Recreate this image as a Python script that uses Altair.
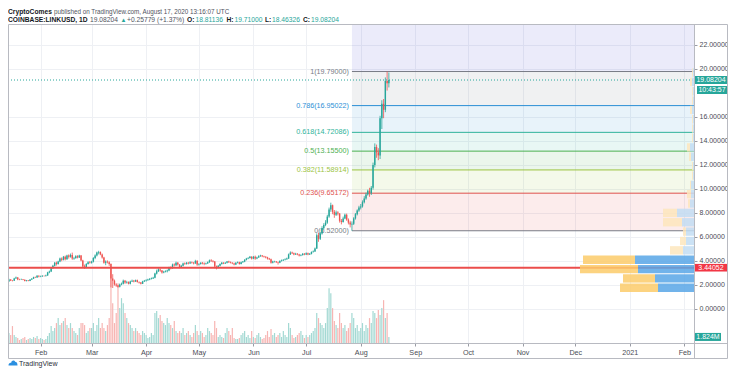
import altair as alt
import pandas as pd

# ---------------- data ----------------
FIRST_OPEN = 2.30  # open of the first visible candle (2020-01-14)

close_jan = [2.45, 2.37, 2.36, 2.55, 2.63, 2.46, 2.45, 2.47, 2.44, 2.33, 2.38, 2.34, 2.45, 2.53, 2.65, 2.63, 2.77, 2.70]
high_jan = [2.52, 2.50, 2.42, 2.60, 2.70, 2.66, 2.52, 2.53, 2.50, 2.46, 2.42, 2.41, 2.48, 2.58, 2.69, 2.70, 2.82, 2.80]
low_jan = [2.28, 2.33, 2.30, 2.34, 2.52, 2.40, 2.40, 2.42, 2.40, 2.30, 2.30, 2.31, 2.32, 2.42, 2.50, 2.58, 2.60, 2.64]
vol_jan = [3.0, 2.4, 5.1, 2.4, 1.8, 1.5, 0.9, 1.2, 1.5, 1.8, 0.9, 1.2, 1.5, 1.2, 1.8, 1.5, 2.1, 1.2]

close_feb = [2.72, 2.76, 2.74, 2.80, 3.05, 3.12, 3.40, 3.60, 3.85, 3.75, 3.95, 4.20, 4.10, 4.35, 4.15, 4.45, 4.35, 4.50, 4.20, 4.25, 4.40, 4.30, 4.45, 4.05, 3.55, 3.45, 3.75, 3.90, 3.85]
high_feb = [2.78, 2.82, 2.80, 2.86, 3.10, 3.20, 3.48, 3.68, 3.92, 3.95, 4.02, 4.28, 4.30, 4.42, 4.45, 4.52, 4.55, 4.62, 4.70, 4.35, 4.48, 4.48, 4.52, 4.50, 4.10, 3.70, 3.82, 3.98, 4.00]
low_feb = [2.65, 2.68, 2.70, 2.70, 2.76, 2.98, 3.08, 3.35, 3.55, 3.62, 3.70, 3.90, 3.98, 4.05, 4.05, 4.10, 4.20, 4.28, 4.10, 4.10, 4.18, 4.22, 4.25, 3.98, 3.45, 3.35, 3.40, 3.70, 3.78]
vol_feb = [1.5, 1.2, 0.9, 1.2, 2.1, 3.0, 5.1, 3.6, 4.5, 6.0, 7.5, 5.4, 6.0, 6.6, 7.5, 5.4, 4.5, 6.0, 4.5, 3.6, 3.0, 2.4, 4.5, 6.0, 6.0, 5.4, 3.0, 3.6, 4.5]

close_mar = [3.95, 4.25, 4.45, 4.70, 4.75, 4.55, 4.30, 3.85, 3.95, 3.90, 3.75, 2.55, 2.35, 2.05, 1.95, 1.85, 2.05, 2.10, 2.35, 2.20, 2.25, 2.10, 2.30, 2.35, 2.30, 2.40, 2.25, 2.20, 2.10, 2.30, 2.35]
high_mar = [4.02, 4.32, 4.55, 4.78, 4.85, 4.80, 4.62, 4.35, 4.05, 4.05, 3.98, 3.80, 2.90, 2.45, 2.15, 2.02, 2.12, 2.20, 2.45, 2.42, 2.35, 2.30, 2.36, 2.45, 2.42, 2.45, 2.45, 2.30, 2.25, 2.35, 2.42]
low_mar = [3.78, 3.88, 4.15, 4.38, 4.55, 4.48, 4.20, 3.78, 3.65, 3.80, 3.60, 1.80, 1.75, 1.95, 1.85, 1.78, 1.80, 1.98, 2.05, 2.10, 2.12, 2.05, 2.05, 2.25, 2.22, 2.25, 2.20, 2.12, 2.05, 2.08, 2.25]
vol_mar = [4.5, 6.0, 3.6, 5.4, 7.5, 4.5, 6.0, 4.5, 3.6, 5.4, 7.5, 19.5, 12.0, 6.0, 9.0, 18.0, 10.5, 13.5, 12.0, 9.0, 7.5, 6.0, 5.4, 4.5, 3.6, 4.5, 3.6, 3.0, 2.4, 3.6, 3.0]

close_apr = [2.40, 2.45, 2.50, 2.55, 2.60, 2.95, 3.15, 3.30, 3.20, 3.05, 3.10, 3.15, 3.20, 3.45, 3.40, 3.70, 3.65, 3.85, 3.70, 3.50, 3.60, 3.80, 3.75, 3.85, 3.80, 3.90, 3.85, 3.80, 4.00, 3.70]
high_apr = [2.48, 2.52, 2.58, 2.62, 2.68, 3.02, 3.28, 3.40, 3.38, 3.25, 3.18, 3.22, 3.28, 3.52, 3.55, 3.78, 3.80, 3.95, 3.92, 3.75, 3.68, 3.86, 3.88, 3.92, 3.92, 3.98, 3.96, 3.92, 4.10, 4.08]
low_apr = [2.28, 2.36, 2.40, 2.46, 2.50, 2.56, 2.88, 3.08, 3.10, 2.95, 2.98, 3.05, 3.05, 3.15, 3.30, 3.35, 3.55, 3.58, 3.62, 3.40, 3.45, 3.55, 3.68, 3.70, 3.72, 3.76, 3.78, 3.72, 3.76, 3.60]
vol_apr = [2.4, 1.5, 1.8, 3.0, 2.4, 9.0, 9.6, 7.5, 8.4, 6.6, 6.0, 5.4, 7.5, 6.0, 5.4, 4.5, 6.6, 3.6, 3.0, 3.6, 3.0, 4.5, 2.4, 3.0, 3.6, 2.4, 1.8, 3.0, 5.4, 3.6]

close_may = [3.75, 3.85, 3.80, 3.75, 3.80, 3.90, 4.05, 4.00, 3.95, 3.55, 3.45, 3.60, 3.75, 3.85, 3.80, 3.85, 3.95, 3.90, 3.85, 3.80, 3.70, 3.85, 3.90, 3.75, 3.90, 3.95, 4.10, 4.20, 4.25, 4.35, 4.20]
high_may = [3.82, 3.90, 3.92, 3.88, 3.86, 3.96, 4.12, 4.15, 4.08, 4.00, 3.62, 3.66, 3.80, 3.92, 3.90, 3.90, 4.00, 4.02, 3.96, 3.90, 3.86, 3.90, 3.96, 3.94, 3.95, 4.00, 4.15, 4.26, 4.32, 4.42, 4.40]
low_may = [3.62, 3.70, 3.72, 3.65, 3.70, 3.76, 3.85, 3.92, 3.88, 3.40, 3.30, 3.40, 3.55, 3.70, 3.74, 3.75, 3.80, 3.84, 3.80, 3.74, 3.64, 3.66, 3.80, 3.70, 3.72, 3.85, 3.90, 4.05, 4.15, 4.20, 4.12]
vol_may = [2.4, 3.6, 3.0, 1.8, 2.4, 4.5, 3.6, 3.0, 2.4, 6.6, 4.5, 1.8, 2.4, 1.8, 1.5, 3.0, 4.5, 3.6, 2.4, 4.5, 1.5, 1.2, 1.2, 1.5, 2.4, 3.0, 3.6, 1.8, 2.4, 1.5, 3.6]

close_jun = [4.35, 4.20, 4.30, 4.40, 4.45, 4.40, 4.35, 4.30, 4.20, 4.15, 3.85, 3.95, 3.95, 3.90, 3.85, 4.00, 4.05, 4.10, 4.15, 4.20, 4.55, 4.70, 4.65, 4.55, 4.60, 4.55, 4.45, 4.50, 4.60, 4.55]
high_jun = [4.42, 4.45, 4.36, 4.48, 4.52, 4.50, 4.44, 4.40, 4.35, 4.26, 4.20, 4.02, 4.02, 4.00, 3.95, 4.06, 4.12, 4.15, 4.22, 4.28, 4.62, 4.80, 4.78, 4.70, 4.68, 4.66, 4.60, 4.56, 4.66, 4.66]
low_jun = [4.15, 4.10, 4.15, 4.26, 4.35, 4.32, 4.28, 4.22, 4.12, 4.08, 3.78, 3.80, 3.88, 3.84, 3.70, 3.82, 3.95, 4.00, 4.05, 4.10, 4.18, 4.50, 4.58, 4.48, 4.50, 4.48, 4.38, 4.40, 4.45, 4.48]
vol_jun = [1.8, 1.5, 2.4, 3.0, 1.8, 1.2, 1.5, 2.4, 3.6, 1.8, 4.2, 2.4, 3.0, 1.8, 2.4, 3.0, 1.8, 3.6, 2.4, 1.8, 6.0, 4.5, 2.4, 1.5, 1.8, 2.4, 3.0, 3.6, 2.4, 1.5]

close_jul = [4.65, 4.55, 4.60, 4.75, 4.80, 5.05, 6.15, 5.85, 6.30, 6.75, 7.00, 7.20, 7.70, 8.30, 8.65, 8.10, 7.85, 8.05, 7.95, 7.35, 7.25, 7.55, 7.85, 7.45, 7.20, 7.05, 7.10, 7.55, 7.90, 8.20, 8.45]
high_jul = [4.72, 4.70, 4.66, 4.80, 4.88, 5.12, 6.30, 6.35, 6.42, 6.90, 7.15, 7.40, 7.85, 8.45, 8.86, 8.70, 8.25, 8.20, 8.15, 8.00, 7.50, 7.70, 7.95, 7.95, 7.55, 7.35, 7.30, 7.65, 8.00, 8.30, 8.60]
low_jul = [4.50, 4.48, 4.50, 4.55, 4.70, 4.76, 5.00, 5.60, 5.75, 6.20, 6.60, 6.90, 7.10, 7.60, 8.10, 7.90, 7.60, 7.75, 7.80, 7.20, 7.05, 7.20, 7.48, 7.35, 7.05, 6.80, 6.52, 7.00, 7.45, 7.80, 8.10]
vol_jul = [2.4, 1.8, 2.4, 3.0, 3.6, 4.5, 9.0, 7.5, 6.0, 5.4, 4.5, 6.0, 10.5, 16.5, 15.0, 10.5, 6.6, 5.4, 4.5, 9.0, 6.0, 4.5, 5.4, 3.6, 4.5, 6.0, 9.0, 7.5, 4.5, 5.4, 3.6]

close_aug = [8.55, 8.90, 9.20, 9.55, 9.85, 9.65, 10.10, 12.00, 13.50, 13.05, 12.80, 15.90, 17.10, 16.60, 19.00, 18.81136, 19.08204]
high_aug = [8.75, 9.05, 9.40, 9.70, 9.95, 10.10, 10.25, 12.20, 13.80, 13.70, 13.40, 16.10, 17.40, 17.50, 19.30, 19.79, 19.71]
low_aug = [8.30, 8.45, 8.80, 9.10, 9.45, 9.35, 9.50, 9.95, 11.80, 12.60, 12.40, 12.50, 15.00, 15.90, 16.40, 18.20, 18.46326]
vol_aug = [4.5, 6.0, 3.6, 5.4, 4.5, 7.5, 6.0, 9.6, 9.0, 7.5, 9.9, 8.4, 10.5, 12.9, 7.5, 9.0, 1.824]

# Fibonacci retracement drawn from the 6.52 low (Jul 27) to the 19.79 high
fib_start = "2020-07-27"
fib_coef = [0, 0.236, 0.382, 0.5, 0.618, 0.786, 1, 1.618]
fib_price = [6.52, 9.65172, 11.58914, 13.155, 14.72086, 16.95022, 19.79, 27.99086]

hline_price = 3.44052
countdown = "10:43:57"

# visible-range volume profile rows (bottom of row, up volume, down volume)
vp_step = 0.78
vp_low = [1.42, 2.20, 2.98, 3.76, 4.54, 5.32, 6.10, 6.88, 7.66, 8.44, 9.22, 10.00,
          10.78, 11.56, 12.34, 13.12, 13.90, 14.68, 15.46, 16.24, 17.02, 17.80, 18.58, 19.36]
vp_up = [54, 58.5, 84, 88.5, 16.5, 12, 12, 18, 25.5, 6, 4.5, 4.5,
         1.5, 1.5, 4.5, 6, 1.5, 1.5, 1.5, 3, 1.5, 1.5, 3, 1.5]
vp_down = [57, 48, 87, 78, 19.5, 9, 4.5, 28.5, 21, 3, 6, 1.5,
           1.5, 1.5, 3, 4.5, 1.5, 1.5, 1.5, 3, 1.5, 1.5, 3, 1.5]
vp_value_area = [True] * 4 + [False] * 20

price_ticks = [0, 2, 4, 6, 8, 10, 12, 14, 16, 20, 22]

header_author = "CryptoComes"
header_rest = "published on TradingView.com, August 17, 2020 13:16:07 UTC"
symbol = "COINBASE:LINKUSD, 1D"
change_text = "+0.25779 (+1.37%)"

# ---------------- tables ----------------
close = close_jan + close_feb + close_mar + close_apr + close_may + close_jun + close_jul + close_aug
high = high_jan + high_feb + high_mar + high_apr + high_may + high_jun + high_jul + high_aug
low = low_jan + low_feb + low_mar + low_apr + low_may + low_jun + low_jul + low_aug
volume = vol_jan + vol_feb + vol_mar + vol_apr + vol_may + vol_jun + vol_jul + vol_aug
dates = pd.date_range("2020-01-14", "2020-08-17", freq="D")
opens = [FIRST_OPEN] + close[:-1]

df = pd.DataFrame({
    "date": dates.strftime("%Y-%m-%d"),
    "open": opens, "high": high, "low": low, "close": close, "volume": volume,
})
df["dir"] = ["up" if c >= o else "down" for o, c in zip(opens, close)]
last = df.tail(1).copy()
last["plabel"] = [f"{v:.5f}" for v in last["close"]]
last["vlabel"] = [f"{v:.3f}M" for v in last["volume"]]

fib_colors = ["#787b86", "#e0514e", "#9bc43f", "#4caf50", "#2fb39a", "#2c8fd6", "#787b86", "#4a45d0"]
fib_keys = [str(c) for c in fib_coef]
fib_lines_df = pd.DataFrame({
    "start": fib_start, "price": fib_price[:7], "key": fib_keys[:7],
    "label": [f"{c:g}({p:.5f})" for c, p in zip(fib_coef[:7], fib_price[:7])],
})
fib_band_df = pd.DataFrame({
    "start": fib_start, "lo": fib_price[:-1], "hi": fib_price[1:], "key": fib_keys[1:],
})

prof_rows = []
for lo, up, dn, va in zip(vp_low, vp_up, vp_down, vp_value_area):
    prof_rows.append({"lo": lo, "hi": lo + vp_step, "x0": 0, "x1": up, "kind": "up_va" if va else "up"})
    prof_rows.append({"lo": lo, "hi": lo + vp_step, "x0": up, "x1": up + dn, "kind": "down_va" if va else "down"})
prof_df = pd.DataFrame(prof_rows)

level_df = pd.DataFrame({"price": [hline_price]})

# ---------------- layout / styles ----------------
W, H = 686, 319          # plot area: page x 8..694, y 24..343
R = 719.5                # right edge of the outer frame (plot coords)
B = 334.5                # bottom edge of the outer frame (plot coords)
FONT = "Liberation Sans"
GRID = "#eef0f4"
FRAME = "#b8bac1"
AXIS_TXT = "#4a4c55"
UP, DOWN = "#26a69a", "#ef5350"
TEAL = "#26a69a"


def ms(s):
    return int(pd.Timestamp(s, tz="UTC").value // 10**6)


x_scale = alt.Scale(type="utc", domain=[ms("2020-01-16 07:32"), ms("2021-02-03 15:03")])
y_scale = alt.Scale(domain=[-2.8333, 23.75], nice=False, zero=False)
month_ticks = [ms(f"{y}-{m:02d}-01") for y, m in
               [(2020, m) for m in range(2, 13)] + [(2021, 1), (2021, 2)]]

x_axis = alt.Axis(values=month_ticks, title=None, grid=True, gridColor=GRID, domain=False,
                  tickSize=3, tickColor="#9a9ca5", labelPadding=2, labelFont=FONT,
                  labelFontSize=7.2, labelColor=AXIS_TXT, labelOverlap=False,
                  labelFlush=False, labelBound=False,
                  labelExpr="utcmonth(datum.value) == 0 ? utcFormat(datum.value, '%Y') : utcFormat(datum.value, '%b')")
y_axis = alt.Axis(orient="right", values=price_ticks, format=".5f", title=None,
                  grid=True, gridColor=GRID, domain=False, tickSize=3, tickColor="#9a9ca5",
                  labelPadding=2, labelFont=FONT, labelFontSize=7, labelColor=AXIS_TXT,
                  labelOffset=-1, labelOverlap=False, labelFlush=False, labelBound=False)

# ---- fibonacci ----
fib_cscale = alt.Scale(domain=fib_keys, range=fib_colors)
fib_bands = alt.Chart(fib_band_df).mark_rect(opacity=0.11, clip=True).encode(
    x=alt.X("start:T", scale=x_scale, axis=None), x2=alt.value(W),
    y=alt.Y("lo:Q", scale=y_scale, axis=None), y2="hi:Q",
    color=alt.Color("key:N", scale=fib_cscale, legend=None))
fib_lines = alt.Chart(fib_lines_df).mark_rule(strokeWidth=1, clip=True).encode(
    x=alt.X("start:T", scale=x_scale, axis=None), x2=alt.value(W),
    y=alt.Y("price:Q", scale=y_scale, axis=None),
    color=alt.Color("key:N", scale=fib_cscale, legend=None))
fib_text = alt.Chart(fib_lines_df).mark_text(align="right", baseline="middle", dx=-3,
                                             font=FONT, fontSize=7.2, clip=True).encode(
    x=alt.X("start:T", scale=x_scale, axis=None),
    y=alt.Y("price:Q", scale=y_scale, axis=None), text="label:N",
    color=alt.Color("key:N", scale=fib_cscale, legend=None))
fib = alt.layer(fib_bands, fib_lines, fib_text)

# ---- volume ----
vol_scale = alt.Scale(domain=[0, 96], nice=False, zero=True)
vol_bars = alt.Chart(df).mark_bar(width=1.2, clip=True).encode(
    x=alt.X("date:T", scale=x_scale, axis=None),
    y=alt.Y("volume:Q", scale=vol_scale, axis=None),
    color=alt.Color("dir:N", scale=alt.Scale(domain=["up", "down"], range=["#a3d9d3", "#f7b5b3"]), legend=None))
vol_box = alt.Chart(last).mark_rect(color=TEAL, yOffset=-4, y2Offset=4).encode(
    x=alt.value(687), x2=alt.value(713),
    y=alt.Y("volume:Q", scale=vol_scale, axis=None), y2="volume:Q")
vol_txt = alt.Chart(last).mark_text(color="white", font=FONT, fontSize=7, align="center", baseline="middle").encode(
    x=alt.value(700), y=alt.Y("volume:Q", scale=vol_scale, axis=None), text="vlabel:N")
vol = alt.layer(vol_bars, vol_box, vol_txt)

# ---- candles ----
ccol = alt.Color("dir:N", scale=alt.Scale(domain=["up", "down"], range=[UP, DOWN]), legend=None)
wicks = alt.Chart(df).mark_rule(strokeWidth=0.8, clip=True).encode(
    x=alt.X("date:T", scale=x_scale, axis=x_axis),
    y=alt.Y("low:Q", scale=y_scale, axis=y_axis), y2="high:Q", color=ccol)
bodies = alt.Chart(df).mark_bar(width=1.4, clip=True).encode(
    x=alt.X("date:T", scale=x_scale, axis=x_axis),
    y=alt.Y("open:Q", scale=y_scale, axis=y_axis), y2="close:Q", color=ccol)
candles = alt.layer(wicks, bodies)

# ---- horizontal line and last price line ----
red_line = alt.Chart(level_df).mark_rule(color="#eb4d4b", strokeWidth=2).encode(
    y=alt.Y("price:Q", scale=y_scale, axis=None), x=alt.value(0), x2=alt.value(W))
price_line = alt.Chart(last).mark_rule(color=TEAL, strokeWidth=1, strokeDash=[1, 2]).encode(
    y=alt.Y("close:Q", scale=y_scale, axis=None), x=alt.value(0), x2=alt.value(W))
overlay = alt.layer(red_line, price_line)

# ---- volume profile ----
prof = alt.Chart(prof_df).mark_rect(opacity=0.85, y2Offset=1, clip=True).encode(
    x=alt.X("x0:Q", scale=alt.Scale(domain=[0, 1029], reverse=True, nice=False, zero=False), axis=None),
    x2="x1:Q",
    y=alt.Y("lo:Q", scale=y_scale, axis=None), y2="hi:Q",
    color=alt.Color("kind:N", scale=alt.Scale(domain=["up_va", "down_va", "up", "down"],
                                              range=["#58a6e6", "#fbcb6a", "#c2ddf3", "#fde6bd"]),
                    legend=None))

# ---- annotations: frame, price tags, header, footer ----
one = pd.DataFrame({"k": [0]})


def txt(text, x, y, color, size=6.7, weight="normal", align="left", font=FONT):
    return alt.Chart(one).mark_text(text=text, align=align, baseline="alphabetic", font=font,
                                    fontSize=size, fontWeight=weight, color=color).encode(
        x=alt.value(x), y=alt.value(y))


def rule(x, x2, y, y2, color=FRAME, width=1):
    return alt.Chart(one).mark_rule(color=color, strokeWidth=width).encode(
        x=alt.value(x), x2=alt.value(x2), y=alt.value(y), y2=alt.value(y2))


mask = alt.Chart(one).mark_rect(color="white").encode(
    x=alt.value(686.5), x2=alt.value(R), y=alt.value(319.5), y2=alt.value(B))
frame = alt.Chart(one).mark_rect(fillOpacity=0, stroke=FRAME, strokeWidth=1).encode(
    x=alt.value(0.5), x2=alt.value(R), y=alt.value(0.5), y2=alt.value(B))
sep_h = rule(0.5, R, 319.5, 319.5)
sep_v = rule(686.5, 686.5, 0.5, B)

last_box = alt.Chart(last).mark_rect(color=TEAL, yOffset=-4, y2Offset=4).encode(
    x=alt.value(687), x2=alt.value(719), y=alt.Y("close:Q", scale=y_scale, axis=None), y2="close:Q")
last_txt = alt.Chart(last).mark_text(color="white", font=FONT, fontSize=7, align="center", baseline="middle").encode(
    x=alt.value(703), y=alt.Y("close:Q", scale=y_scale, axis=None), text="plabel:N")
timer_box = alt.Chart(last).mark_rect(color=TEAL, yOffset=6, y2Offset=14).encode(
    x=alt.value(689), x2=alt.value(719), y=alt.Y("close:Q", scale=y_scale, axis=None), y2="close:Q")
timer_txt = alt.Chart(last).mark_text(text=countdown, color="white", font=FONT, fontSize=7, align="center",
                                      baseline="middle", dy=10).encode(
    x=alt.value(704), y=alt.Y("close:Q", scale=y_scale, axis=None))
lvl_box = alt.Chart(level_df).mark_rect(color="#f23645", yOffset=-3.8, y2Offset=3.8).encode(
    x=alt.value(687), x2=alt.value(719), y=alt.Y("price:Q", scale=y_scale, axis=None), y2="price:Q")
lvl_txt = alt.Chart(level_df).mark_text(color="white", font=FONT, fontSize=7, align="center", baseline="middle").encode(
    x=alt.value(703), y=alt.Y("price:Q", scale=y_scale, axis=None), text=alt.Text("price:Q", format=".5f"))

DARK, GRAY = "#131722", "#50535e"
o, h, l, c = opens[-1], high[-1], low[-1], close[-1]
header = [
    txt(header_author, 0, -10, DARK, weight="bold"),
    txt(header_rest, 46, -10, GRAY, size=6.3),
    txt(symbol, 0, -2, DARK, weight="bold"),
    txt(f"{c:.5f}", 82, -2, GRAY),
    txt("\u25b2", 112.5, -2, TEAL, size=6),
    txt(change_text, 119, -2, GRAY),
    txt("O:", 179, -2, DARK, weight="bold"),
    txt(f"{o:.5f}", 187.5, -2, TEAL),
    txt("H:", 218.5, -2, DARK, weight="bold"),
    txt(f"{h:.5f}", 226.5, -2, TEAL),
    txt("L:", 257, -2, DARK, weight="bold"),
    txt(f"{l:.5f}", 264, -2, TEAL),
    txt("C:", 295, -2, DARK, weight="bold"),
    txt(f"{c:.5f}", 303, -2, TEAL),
]
logo = alt.Chart(one).mark_point(
    shape="M-1,0.55 C-1,0.1 -0.7,-0.12 -0.4,-0.05 C-0.35,-0.62 0.35,-0.78 0.55,-0.2 C0.85,-0.25 1,0.1 1,0.55 Z",
    size=81, filled=True, color="#2a8fe0", opacity=1).encode(x=alt.value(5), y=alt.value(339))
logo_txt = txt("TradingView", 11, 342, "#2a2e39", size=7)

annot = alt.layer(mask, frame, sep_h, sep_v, last_box, last_txt, timer_box, timer_txt,
                  lvl_box, lvl_txt, *header, logo, logo_txt)

chart = alt.layer(fib, vol, candles, overlay, prof, annot).resolve_scale(
    x="independent", y="independent", color="independent"
).properties(
    width=W, height=H,
    padding={"left": 0, "top": 16, "right": 34, "bottom": 25},
    autosize=alt.AutoSizeParams(type="none"),
).configure_view(stroke="transparent")

chart.save("out.html", embed_options={"renderer": "svg", "actions": False})
